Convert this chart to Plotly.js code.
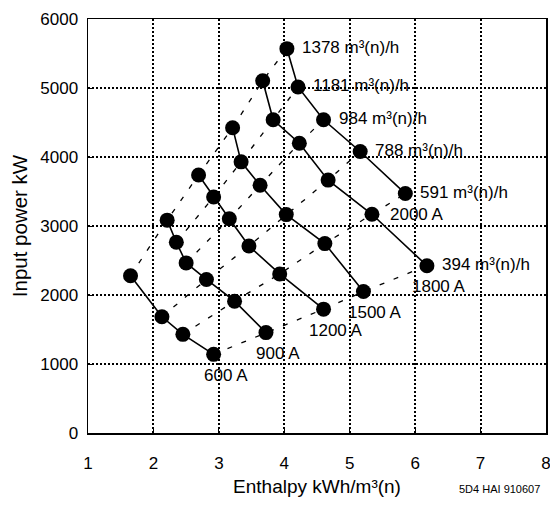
<!DOCTYPE html>
<html>
<head>
<meta charset="utf-8">
<script src="https://cdn.plot.ly/plotly-3.0.1.min.js"></script>
<style>html,body{margin:0;padding:0;background:#fff;}#chart{width:550px;height:506px;}</style>
</head>
<body>
<div id="chart"></div>
<script>
// Flow rates (ordered top-left to bottom-right along each current line)
const flowLabels = ['1378 m³(n)/h', '1181 m³(n)/h', '984 m³(n)/h', '788 m³(n)/h', '591 m³(n)/h', '394 m³(n)/h'];
const currentLabels = ['600 A', '900 A', '1200 A', '1500 A', '1800 A', '2000 A'];

// Enthalpy (kWh/m³(n)) and input power (kW) per current, one entry per flow (null = not measured)
const h600  = [1.65, null, null, 2.13, 2.45, 2.92];
const p600  = [2280, null, null, 1685, 1430, 1140];
const h900  = [2.21, 2.35, 2.50, 2.81, 3.24, 3.72];
const p900  = [3085, 2765, 2465, 2225, 1910, 1455];
const h1200 = [2.69, 2.92, 3.16, 3.46, 3.93, 4.60];
const p1200 = [3740, 3420, 3105, 2710, 2305, 1795];
const h1500 = [3.21, 3.34, 3.63, 4.03, 4.62, 5.21];
const p1500 = [4425, 3930, 3590, 3165, 2745, 2050];
const h1800 = [3.67, 3.83, 4.23, 4.67, 5.34, 6.18];
const p1800 = [5105, 4540, 4200, 3665, 3170, 2425];
const h2000 = [4.04, 4.21, 4.60, 5.16, 5.85, null];
const p2000 = [5570, 5015, 4540, 4080, 3470, null];

const xTicks = [1, 2, 3, 4, 5, 6, 7, 8];
const yTicks = [0, 1000, 2000, 3000, 4000, 5000, 6000];

const H = [h600, h900, h1200, h1500, h1800, h2000];
const P = [p600, p900, p1200, p1500, p1800, p2000];

const FONT = 'Liberation Sans, Arial, Helvetica, sans-serif';
const traces = [];
const annotations = [];

// Dashed constant-flow lines
for (let f = 0; f < flowLabels.length; f++) {
  const xs = [], ys = [];
  for (let c = 0; c < H.length; c++) {
    if (H[c][f] !== null) { xs.push(H[c][f]); ys.push(P[c][f]); }
  }
  traces.push({x: xs, y: ys, mode: 'lines', type: 'scatter', hoverinfo: 'skip',
    line: {color: '#000', width: 1.3, dash: '5px,10px'}, showlegend: false});
  annotations.push({x: xs[xs.length - 1], y: ys[ys.length - 1], xref: 'x', yref: 'y',
    text: flowLabels[f], showarrow: false, xanchor: 'left', yanchor: 'middle', xshift: 13, yshift: 1,
    font: {family: FONT, size: 17, color: '#000'}});
}

// Solid constant-current lines with markers
for (let c = 0; c < H.length; c++) {
  const xs = [], ys = [];
  for (let f = 0; f < H[c].length; f++) {
    if (H[c][f] !== null) { xs.push(H[c][f]); ys.push(P[c][f]); }
  }
  traces.push({x: xs, y: ys, mode: 'lines+markers', type: 'scatter',
    line: {color: '#000', width: 1.6}, marker: {color: '#000', size: 15},
    showlegend: false});
  annotations.push({x: xs[xs.length - 1], y: ys[ys.length - 1], xref: 'x', yref: 'y',
    text: currentLabels[c], showarrow: false, xanchor: 'center', yanchor: 'middle', xshift: 12, yshift: -21,
    font: {family: FONT, size: 17, color: '#000'}});
}

annotations.push({x: 1, y: 0, xref: 'paper', yref: 'paper', text: '5D4 HAI 910607', showarrow: false,
  xanchor: 'right', yanchor: 'middle', xshift: -4, yshift: -56, font: {family: FONT, size: 11, color: '#000'}});

const layout = {
  width: 550, height: 506,
  margin: {l: 88, r: 4, t: 19, b: 73},
  paper_bgcolor: '#fff', plot_bgcolor: '#fff',
  font: {family: FONT, color: '#000', size: 17},
  xaxis: {range: [1, 8], tickvals: xTicks, ticktext: xTicks.map(String),
    showgrid: true, gridcolor: '#000', gridwidth: 2, griddash: '2px,2px',
    showline: true, linecolor: '#000', linewidth: 1.5, mirror: true, zeroline: false,
    ticks: 'inside', ticklen: 5, tickcolor: '#000', ticklabelstandoff: 14,
    ticklabeloverflow: 'allow',
    tickfont: {family: FONT, size: 17},
    title: {text: 'Enthalpy kWh/m³(n)', font: {family: FONT, size: 19}, standoff: 8}},
  yaxis: {range: [0, 6000], tickvals: yTicks, ticktext: yTicks.map(String),
    showgrid: true, gridcolor: '#000', gridwidth: 2, griddash: '2px,2px',
    showline: true, linecolor: '#000', linewidth: 1.5, mirror: true, zeroline: false,
    ticks: 'inside', ticklen: 5, tickcolor: '#000', ticklabelstandoff: 5,
    ticklabeloverflow: 'allow',
    tickfont: {family: FONT, size: 17},
    title: {text: 'Input power kW', font: {family: FONT, size: 20.5}, standoff: 7}},
  annotations: annotations,
  showlegend: false
};

Plotly.newPlot('chart', traces, layout, {displayModeBar: false, staticPlot: true});
</script>
</body>
</html>
